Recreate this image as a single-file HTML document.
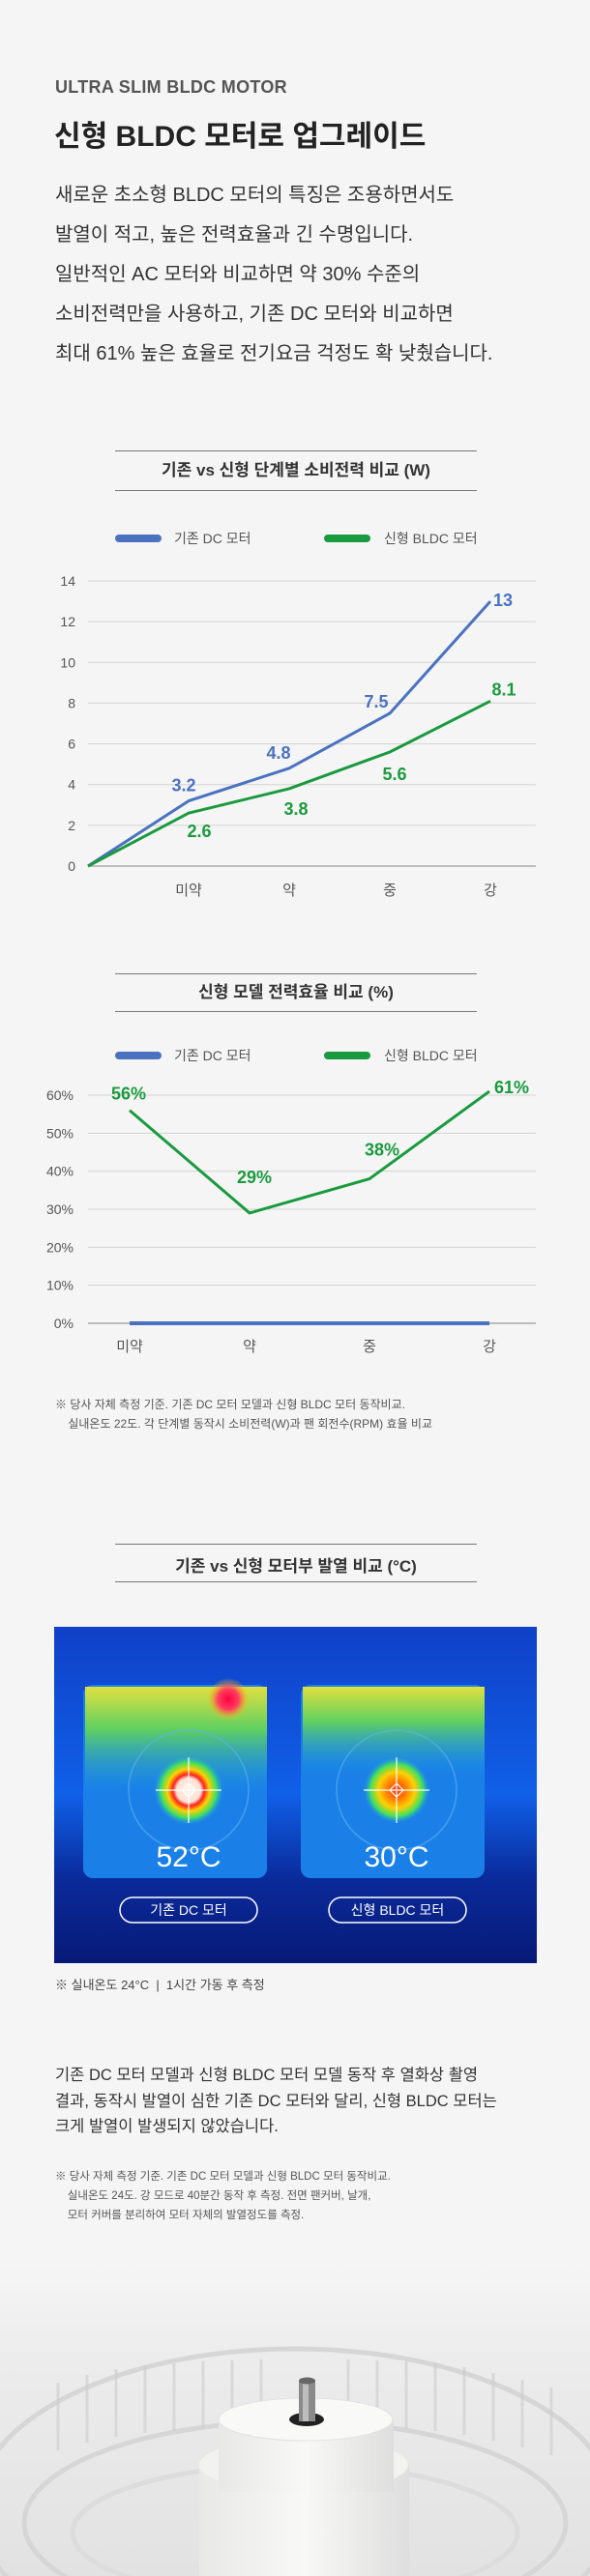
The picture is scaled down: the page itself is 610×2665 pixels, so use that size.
<!DOCTYPE html>
<html><head><meta charset="utf-8">
<style>
*{margin:0;padding:0;box-sizing:border-box}
body{width:610px;height:2665px;background:#f5f5f5;font-family:"Liberation Sans","Noto Sans CJK KR",sans-serif;position:relative;overflow:hidden;color:#333}
.a{position:absolute;white-space:nowrap}
.rule{position:absolute;left:119px;width:374px;height:1px;background:#777}
.ct{position:absolute;left:119px;width:374px;text-align:center;font-weight:bold;font-size:17px;color:#333}
svg{position:absolute;left:0;top:0}
.fn{font-size:12px;color:#555;line-height:20px}
</style></head><body>
<div class="a" style="left:57px;top:80px;font-size:18px;font-weight:bold;color:#555;letter-spacing:.3px">ULTRA SLIM BLDC MOTOR</div>
<div class="a" style="left:56px;top:116px;font-size:30px;font-weight:bold;color:#222">신형 BLDC 모터로 업그레이드</div>
<div class="a" style="left:57px;top:182px;font-size:20px;line-height:41px;color:#333">새로운 초소형 BLDC 모터의 특징은 조용하면서도<br>발열이 적고, 높은 전력효율과 긴 수명입니다.<br>일반적인 AC 모터와 비교하면 약 30% 수준의<br>소비전력만을 사용하고, 기존 DC 모터와 비교하면<br>최대 61% 높은 효율로 전기요금 걱정도 확 낮췄습니다.</div>

<div class="rule" style="top:466px"></div>
<div class="ct" style="top:472px">기존 vs 신형 단계별 소비전력 비교 (W)</div>
<div class="rule" style="top:507px"></div>

<div class="rule" style="top:1007px"></div>
<div class="ct" style="top:1012px">신형 모델 전력효율 비교 (%)</div>
<div class="rule" style="top:1046px"></div>

<svg id="chart1" width="610" height="940" style="top:0"></svg>
<svg id="chart2" width="610" height="1420" style="top:0"></svg>

<div class="a fn" style="left:57px;top:1443px">※ 당사 자체 측정 기준. 기존 DC 모터 모델과 신형 BLDC 모터 동작비교.<br>&nbsp;&nbsp;&nbsp;&nbsp;실내온도 22도. 각 단계별 동작시 소비전력(W)과 팬 회전수(RPM) 효율 비교</div>

<div class="rule" style="top:1597px"></div>
<div class="ct" style="top:1606px">기존 vs 신형 모터부 발열 비교 (°C)</div>
<div class="rule" style="top:1636px"></div>

<svg width="499" height="348" style="left:56px;top:1683px">
<defs>
<radialGradient id="hotL"><stop offset="0" stop-color="#fff4ea"/><stop offset=".35" stop-color="#ffe0d0"/><stop offset=".45" stop-color="#ff2020"/><stop offset=".6" stop-color="#ffd000"/><stop offset=".8" stop-color="#40e060"/><stop offset="1" stop-color="#20a0e0" stop-opacity="0"/></radialGradient>
<radialGradient id="hotR"><stop offset="0" stop-color="#ff3010"/><stop offset=".3" stop-color="#ff8000"/><stop offset=".55" stop-color="#ffd000"/><stop offset=".8" stop-color="#40e060"/><stop offset="1" stop-color="#20a0e0" stop-opacity="0"/></radialGradient>
<radialGradient id="spot"><stop offset="0" stop-color="#ff0040"/><stop offset=".5" stop-color="#ff4060"/><stop offset="1" stop-color="#ffd000" stop-opacity="0"/></radialGradient>
<linearGradient id="bg" x1="0" y1="0" x2="0" y2="1"><stop offset="0" stop-color="#1040c8"/><stop offset=".5" stop-color="#1060e8"/><stop offset=".75" stop-color="#0a2a9a"/><stop offset="1" stop-color="#081a78"/></linearGradient>
<linearGradient id="top" x1="0" y1="0" x2="0" y2="1"><stop offset="0" stop-color="#e0e040"/><stop offset=".4" stop-color="#60d060"/><stop offset="1" stop-color="#20a0e0" stop-opacity="0"/></linearGradient>
</defs>
<rect width="499" height="348" fill="url(#bg)"/>
<rect x="30" y="60" width="190" height="200" rx="10" fill="#1a80e8"/>
<rect x="255" y="60" width="190" height="200" rx="10" fill="#1a80e8"/>
<rect x="32" y="62" width="188" height="110" fill="url(#top)"/>
<rect x="257" y="62" width="188" height="90" fill="url(#top)"/>
<circle cx="180" cy="75" r="22" fill="url(#spot)"/>
<circle cx="139" cy="169" r="62" fill="none" stroke="#60b0f0" stroke-width="1.5" opacity=".6"/>
<circle cx="354" cy="169" r="62" fill="none" stroke="#60b0f0" stroke-width="1.5" opacity=".6"/>
<circle cx="139" cy="169" r="36" fill="url(#hotL)"/>
<circle cx="354" cy="169" r="34" fill="url(#hotR)"/>
<g stroke="#fff" stroke-width="1.2" fill="none"><path d="M105 169h68M139 135v68M132 169l7-7 7 7-7 7z"/><path d="M320 169h68M354 135v68M347 169l7-7 7 7-7 7z"/></g>
<text x="139" y="248" text-anchor="middle" font-size="30" fill="#fff" font-family="Liberation Sans,sans-serif" font-weight="300">52°C</text>
<text x="354" y="248" text-anchor="middle" font-size="30" fill="#fff" font-family="Liberation Sans,sans-serif">30°C</text>
<rect x="68" y="280" width="142" height="26" rx="13" fill="none" stroke="#fff" stroke-width="1.5"/>
<rect x="284" y="280" width="142" height="26" rx="13" fill="none" stroke="#fff" stroke-width="1.5"/>
<text x="139" y="298" text-anchor="middle" font-size="14" fill="#fff" font-family="Liberation Sans,Noto Sans CJK KR,sans-serif">기존 DC 모터</text>
<text x="355" y="298" text-anchor="middle" font-size="14" fill="#fff" font-family="Liberation Sans,Noto Sans CJK KR,sans-serif">신형 BLDC 모터</text>
</svg>
<div class="a" style="left:57px;top:2043px;font-size:13px;color:#444">※ 실내온도 24°C &nbsp;|&nbsp; 1시간 가동 후 측정</div>

<div class="a" style="left:57px;top:2134px;font-size:16.5px;line-height:26.5px;color:#333">기존 DC 모터 모델과 신형 BLDC 모터 모델 동작 후 열화상 촬영<br>결과, 동작시 발열이 심한 기존 DC 모터와 달리, 신형 BLDC 모터는<br>크게 발열이 발생되지 않았습니다.</div>
<div class="a fn" style="left:57px;top:2242px;font-size:11.5px">※ 당사 자체 측정 기준. 기존 DC 모터 모델과 신형 BLDC 모터 동작비교.<br>&nbsp;&nbsp;&nbsp;&nbsp;실내온도 24도. 강 모드로 40분간 동작 후 측정. 전면 팬커버, 날개,<br>&nbsp;&nbsp;&nbsp;&nbsp;모터 커버를 분리하여 모터 자체의 발열정도를 측정.</div>

<svg width="610" height="320" style="top:2345px">
<defs><linearGradient id="fg" x1="0" y1="0" x2="0" y2="1"><stop offset="0" stop-color="#f5f5f5"/><stop offset=".3" stop-color="#ececec"/><stop offset="1" stop-color="#e2e2e2"/></linearGradient>
<linearGradient id="hub" x1="0" y1="0" x2="1" y2="0"><stop offset="0" stop-color="#e8e8e6"/><stop offset=".5" stop-color="#f8f8f6"/><stop offset="1" stop-color="#dedede"/></linearGradient></defs>
<rect width="610" height="320" fill="url(#fg)"/>
<g fill="none" stroke="#d6d6d6" stroke-width="5">
<ellipse cx="305" cy="250" rx="330" ry="165"/>
<ellipse cx="305" cy="265" rx="280" ry="105"/>
<ellipse cx="305" cy="275" rx="230" ry="70" stroke="#dcdcdc"/>
</g>
<g stroke="#cdcdcd" stroke-width="3" opacity=".6">
<path d="M60 120v70M90 112v70M120 106v70M150 102v70M180 100v70M210 98v70M240 97v70M270 96v60M360 96v60M390 97v70M420 98v70M450 100v70M480 104v70M510 110v70M540 117v70M570 125v70"/>
</g>
<rect x="206" y="205" width="217" height="120" fill="url(#hub)"/>
<ellipse cx="314" cy="205" rx="108" ry="28" fill="#f2f2f0"/>
<rect x="226" y="158" width="181" height="75" fill="url(#hub)"/>
<ellipse cx="316" cy="158" rx="90" ry="22" fill="#f9f9f7" stroke="#e2e2e2"/>
<ellipse cx="317" cy="158" rx="18" ry="7" fill="#222"/>
<rect x="309" y="118" width="17" height="42" fill="#8a8a8a"/>
<rect x="313" y="118" width="6" height="42" fill="#bdbdbd"/>
<ellipse cx="317.5" cy="118" rx="8.5" ry="3.5" fill="#666"/>
</svg>

<script>
// ---- Chart 1 data ----
const c1Categories = ["", "미약", "약", "중", "강"];
const c1DcValues = [0, 3.2, 4.8, 7.5, 13];
const c1BldcValues = [0, 2.6, 3.8, 5.6, 8.1];
const c1Ticks = [0, 2, 4, 6, 8, 10, 12, 14];
const c1SeriesNames = ["기존 DC 모터", "신형 BLDC 모터"];
// ---- Chart 2 data ----
const c2Categories = ["미약", "약", "중", "강"];
const c2DcValues = [0, 0, 0, 0];
const c2BldcValues = [56, 29, 38, 61];
const c2Ticks = [0, 10, 20, 30, 40, 50, 60];

const NS = "http://www.w3.org/2000/svg";
const BLUE = "#4a72c0", GREEN = "#1a9a3e";
function mk(svg, tag, attrs, txt) {
  const e = document.createElementNS(NS, tag);
  for (const k in attrs) e.setAttribute(k, attrs[k]);
  if (txt !== undefined) e.textContent = txt;
  svg.appendChild(e);
  return e;
}
function legend(svg, y) {
  let r = mk(svg, "rect", {x: 119, y: y - 4, width: 48, height: 8, rx: 4, fill: BLUE});
  
  
  let t = mk(svg, "text", {x: 180, y: y + 5, "font-size": 14, fill: "#555"}, c1SeriesNames[0]);
  
  
  r = mk(svg, "rect", {x: 335, y: y - 4, width: 48, height: 8, rx: 4, fill: GREEN});
  
  
  t = mk(svg, "text", {x: 397, y: y + 5, "font-size": 14, fill: "#555"}, c1SeriesNames[1]);
  
  
}
function fmt(v, pct) { return pct ? v + "%" : String(v); }

// Chart 1
(function () {
  const svg = document.getElementById("chart1");
  svg.style.fontFamily = '"Liberation Sans","Noto Sans CJK KR",sans-serif';
  const y0 = 896, yTop = 601, vMax = 14;
  const y = v => y0 - (v / vMax) * (y0 - yTop);
  const x = i => 91 + i * 104;
  legend(svg, 557);
  c1Ticks.forEach(t => {
    const l = mk(svg, "line", {x1: 91, x2: 554, y1: y(t), y2: y(t), stroke: t === 0 ? "#aaa" : "#d4d4d4", "stroke-width": t === 0 ? 1.5 : 1});
    
    
    const tx = mk(svg, "text", {x: 78, y: y(t) + 5, "text-anchor": "end", "font-size": 14, fill: "#555"}, t);
    
    
  });
  c1Categories.forEach((c, i) => {
    if (!c) return;
    const tx = mk(svg, "text", {x: x(i), y: 926, "text-anchor": "middle", "font-size": 15, fill: "#555"}, c);
    
    
  });
  [[c1DcValues, BLUE, "dc"], [c1BldcValues, GREEN, "bldc"]].forEach(([vals, col, nm]) => {
    const p = mk(svg, "polyline", {points: vals.map((v, i) => x(i) + "," + y(v)).join(" "), fill: "none", stroke: col, "stroke-width": 3, "stroke-linejoin": "round"});
    
    
  });
  const dcOff = [null, [-5, -10], [-11, -10], [-14, -6], [13, 5]];
  const bOff = [null, [11, 25], [7, 27], [5, 29], [14, -6]];
  c1DcValues.forEach((v, i) => {
    if (!i) return;
    const t = mk(svg, "text", {x: x(i) + dcOff[i][0], y: y(v) + dcOff[i][1], "text-anchor": "middle", "font-size": 18, "font-weight": "bold", fill: BLUE}, fmt(v));
    
    
  });
  c1BldcValues.forEach((v, i) => {
    if (!i) return;
    const t = mk(svg, "text", {x: x(i) + bOff[i][0], y: y(v) + bOff[i][1], "text-anchor": "middle", "font-size": 18, "font-weight": "bold", fill: GREEN}, fmt(v));
    
    
  });
})();

// Chart 2
(function () {
  const svg = document.getElementById("chart2");
  svg.style.fontFamily = '"Liberation Sans","Noto Sans CJK KR",sans-serif';
  const y0 = 1369, yTop = 1133, vMax = 60;
  const y = v => y0 - (v / vMax) * (y0 - yTop);
  const x = i => 134 + i * 124;
  legend(svg, 1092);
  c2Ticks.forEach(t => {
    const l = mk(svg, "line", {x1: 91, x2: 554, y1: y(t), y2: y(t), stroke: t === 0 ? "#aaa" : "#d4d4d4", "stroke-width": t === 0 ? 1.5 : 1});
    
    
    const tx = mk(svg, "text", {x: 76, y: y(t) + 5, "text-anchor": "end", "font-size": 14, fill: "#555"}, t + "%");
    
    
  });
  c2Categories.forEach((c, i) => {
    const tx = mk(svg, "text", {x: x(i), y: 1398, "text-anchor": "middle", "font-size": 15, fill: "#555"}, c);
    
    
  });
  [[c2DcValues, BLUE, "dc"], [c2BldcValues, GREEN, "bldc"]].forEach(([vals, col, nm]) => {
    const p = mk(svg, "polyline", {points: vals.map((v, i) => x(i) + "," + y(v)).join(" "), fill: "none", stroke: col, "stroke-width": nm === "dc" ? 4 : 3, "stroke-linejoin": "round"});
    
    
  });
  const off = [[-1, -11], [5, -31], [13, -24], [23, 2]];
  c2BldcValues.forEach((v, i) => {
    const t = mk(svg, "text", {x: x(i) + off[i][0], y: y(v) + off[i][1], "text-anchor": "middle", "font-size": 18, "font-weight": "bold", fill: GREEN}, fmt(v, true));
    
    
  });
})();
</script>
</body></html>
